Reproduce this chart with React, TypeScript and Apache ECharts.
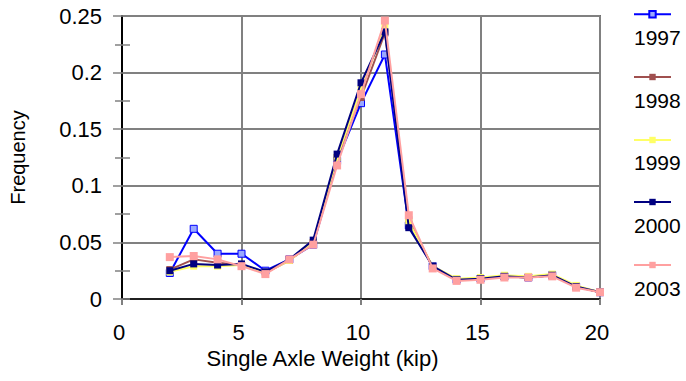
import React, { useEffect, useRef } from "react";
import * as echarts from "echarts";

const weights = [2, 3, 4, 5, 6, 7, 8, 9, 10, 11, 12, 13, 14, 15, 16, 17, 18, 19, 20];
const years = ["1997", "1998", "1999", "2000", "2003"];
const f1997 = [0.023, 0.062, 0.040, 0.040, 0.025, 0.035, 0.048, 0.122, 0.173, 0.216, 0.065, 0.029, 0.017, 0.018, 0.020, 0.019, 0.021, 0.011, 0.006];
const f1998 = [0.026, 0.035, 0.032, 0.030, 0.023, 0.034, 0.050, 0.125, 0.178, 0.235, 0.070, 0.028, 0.017, 0.018, 0.020, 0.019, 0.021, 0.011, 0.006];
const f1999 = [0.024, 0.029, 0.029, 0.030, 0.023, 0.034, 0.050, 0.125, 0.185, 0.240, 0.068, 0.029, 0.018, 0.019, 0.021, 0.020, 0.022, 0.012, 0.006];
const f2000 = [0.025, 0.031, 0.030, 0.031, 0.024, 0.035, 0.052, 0.128, 0.191, 0.236, 0.063, 0.029, 0.017, 0.018, 0.020, 0.019, 0.021, 0.011, 0.006];
const f2003 = [0.037, 0.038, 0.035, 0.029, 0.022, 0.035, 0.048, 0.118, 0.181, 0.246, 0.074, 0.027, 0.016, 0.017, 0.019, 0.019, 0.020, 0.010, 0.006];
const seriesValues = [f1997, f1998, f1999, f2000, f2003];

const lineColors = ["#0000ff", "#a0504f", "#ffff66", "#000080", "#ffa0a0"];
const markerFills = ["#9aa8ff", "#a0504f", "#ffff66", "#000080", "#ffa0a0"];
const markerSizes = [7, 7, 7, 7, 8];

const FONT = "'Liberation Sans', Arial, sans-serif";

export default function App() {
  const ref = useRef<HTMLDivElement>(null);
  useEffect(() => {
    if (!ref.current) return;
    const chart = echarts.init(ref.current, undefined, { renderer: "svg" });
    const legendTops = [10, 73, 136, 198, 261];
    const labelTops = [40, 103, 165, 228, 291];
    const yCommon = { type: "value", min: 0, max: 0.25, interval: 0.05 };
    chart.setOption({
      animation: false,
      backgroundColor: "#ffffff",
      textStyle: { fontFamily: FONT },
      grid: {
        left: 120,
        top: 16,
        width: 480,
        height: 283,
        show: true,
        borderColor: "#000000",
        borderWidth: 1.5,
        backgroundColor: "transparent",
      },
      legend: years.map((y, i) => ({
        data: [y],
        orient: "vertical",
        left: 633,
        top: legendTops[i],
        itemWidth: 37,
        itemHeight: 8,
        itemGap: 0,
        padding: 0,
        selectedMode: false,
        formatter: () => "",
        textStyle: { fontSize: 1 },
      })),
      graphic: years.map((y, i) => ({
        type: "text",
        left: 634,
        top: labelTops[i] - 13,
        style: { text: y, fontSize: 21, fontFamily: FONT, fill: "#000000" },
      })),
      xAxis: {
        type: "value",
        min: 0,
        max: 20,
        interval: 5,
        name: "Single Axle Weight (kip)",
        nameLocation: "middle",
        nameGap: 48,
        nameTextStyle: { fontSize: 22, color: "#000", fontFamily: FONT, padding: [0, 77, 0, 0] },
        axisLine: { show: true, onZero: false, lineStyle: { color: "#000", width: 1.5 } },
        axisTick: { show: true, length: 6, lineStyle: { color: "#808080", width: 2 } },
        axisLabel: { fontSize: 22, color: "#000", margin: 22, fontFamily: FONT, padding: [0, 6, 0, 0] },
        splitLine: { show: true, lineStyle: { color: "#808080", width: 2 } },
      },
      yAxis: [
        {
          ...yCommon,
          name: "Frequency",
          nameLocation: "middle",
          nameGap: 94,
          nameRotate: 90,
          nameTextStyle: { fontSize: 20, color: "#000", fontFamily: FONT },
          axisLine: { show: true, lineStyle: { color: "#000", width: 2 } },
          axisTick: { show: true, length: 9, lineStyle: { color: "#808080", width: 1.5 } },
          minorTick: { show: true, splitNumber: 2, length: 7, lineStyle: { color: "#808080", width: 1.5 } },
          axisLabel: {
            fontSize: 22,
            color: "#000",
            margin: 20,
            fontFamily: FONT,
            formatter: (v: number) => String(parseFloat(v.toFixed(2))),
          },
          splitLine: { show: true, lineStyle: { color: "#808080", width: 2 } },
        },
        {
          ...yCommon,
          position: "left",
          axisLine: { show: false },
          axisLabel: { show: false },
          splitLine: { show: false },
          axisTick: { show: true, inside: true, length: 8, lineStyle: { color: "#808080", width: 1.5 } },
          minorTick: { show: true, splitNumber: 2, length: 8, lineStyle: { color: "#808080", width: 1.5 } },
        },
      ],
      series: years.map((y, i) => ({
        name: y,
        type: "line",
        data: weights.map((w, j) => [w, seriesValues[i][j]]),
        symbol: "rect",
        symbolSize: markerSizes[i],
        lineStyle: { color: lineColors[i], width: 2 },
        itemStyle: {
          color: markerFills[i],
          borderColor: lineColors[i],
          borderWidth: i === 0 ? 1 : 0,
        },
        z: 2 + i,
      })),
    });
    return () => chart.dispose();
  }, []);
  return (
    <div
      ref={ref}
      style={{ position: "fixed", left: 0, top: 0, width: 686, height: 381 }}
    />
  );
}
